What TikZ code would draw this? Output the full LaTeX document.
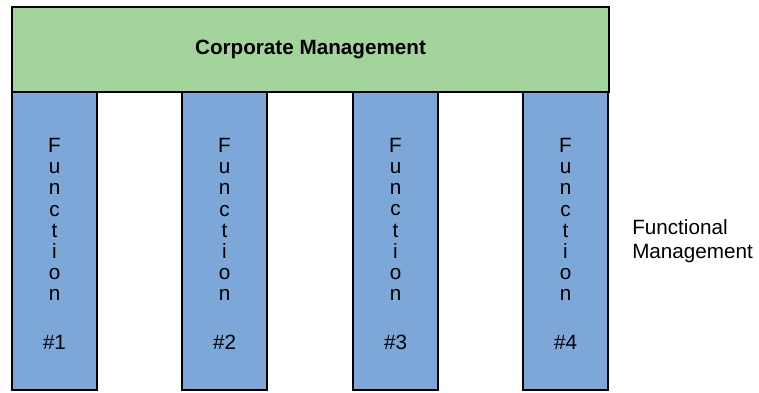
\documentclass[tikz,border=0pt]{standalone}
\usepackage{fontspec}
\setmainfont{Liberation Sans}
\usetikzlibrary{positioning}

\definecolor{corpgreen}{RGB}{163,212,156}
\definecolor{funcblue}{RGB}{125,167,217}

\begin{document}
\begin{tikzpicture}[
    x=0.75pt, y=-0.75pt,
    hdr/.style={draw, line width=1.2pt, fill=corpgreen, minimum width=447.75pt,
                minimum height=63.75pt, inner sep=0pt,
                font=\fontsize{15.5pt}{18pt}\selectfont\bfseries},
    col/.style={draw, line width=1.2pt, fill=funcblue, minimum width=63.75pt,
                minimum height=223.5pt, inner sep=0pt},
    coltxt/.style={align=center, inner sep=0pt,
                   font=\fontsize{15.5pt}{15.86pt}\selectfont},
    lbl/.style={align=left, inner sep=0pt,
                font=\fontsize{15.5pt}{18pt}\selectfont}
  ]
  \useasboundingbox (0,0) rectangle (759,392);

  % Header across the top
  \node[hdr] (corp) at (310.5, 49.5) {Corporate Management};

  % One column per function, letters stacked
  \foreach \i/\x in {1/54.5, 2/224.5, 3/395.5, 4/565.5} {
    \node[col] (col\i) at (\x, 241) {};
    \node[coltxt] (txt\i) at (\x, 244)
      {F\\u\\n\\c\\t\\i\\o\\n\\[20.9pt]\#\i};
  }

  % Side label
  \node[lbl, anchor=west] (funcmgmt) at (632, 241)
    {Functional\\Management};
\end{tikzpicture}
\end{document}
